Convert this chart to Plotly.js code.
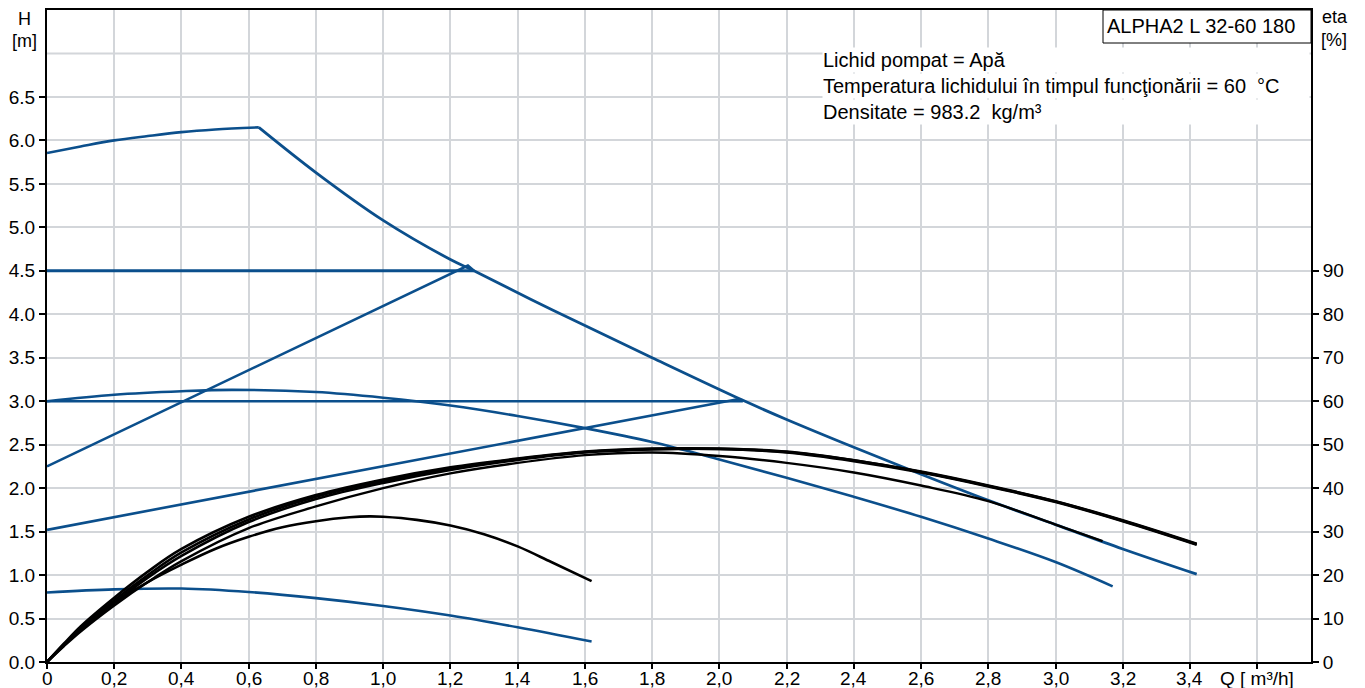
<!DOCTYPE html>
<html><head><meta charset="utf-8">
<script src="https://cdn.plot.ly/plotly-3.0.1.min.js"></script>
<style>html,body{margin:0;padding:0;background:#fff}#chart{width:1365px;height:688px}</style>
</head><body><div id="chart"></div>
<script>
// ---------- axis ticks ----------
const Q_TICKS = [0,0.2,0.4,0.6,0.8,1.0,1.2,1.4,1.6,1.8,2.0,2.2,2.4,2.6,2.8,3.0,3.2,3.4,3.6];
const Q_LABELS = ["0","0,2","0,4","0,6","0,8","1,0","1,2","1,4","1,6","1,8","2,0","2,2","2,4","2,6","2,8","3,0","3,2","3,4","Q [ m³/h]"];
const H_TICKS = [0,0.5,1.0,1.5,2.0,2.5,3.0,3.5,4.0,4.5,5.0,5.5,6.0,6.5];
const H_LABELS = ["0.0","0.5","1.0","1.5","2.0","2.5","3.0","3.5","4.0","4.5","5.0","5.5","6.0","6.5"];
const H_EXTRA_GRID = [7.0];
const ETA_TICKS = [0,10,20,30,40,50,60,70,80,90];

// ---------- pump curves (blue) ----------
const Q_max_rise = [0,0.1,0.2,0.3,0.4,0.5,0.63];
const H_max_rise = [5.855,5.93,6.0,6.05,6.095,6.125,6.15];
const Q_max_fall = [0.63,0.8,1.0,1.2,1.27,1.44,1.6,1.8,2.07,2.2,2.4,2.6,2.8,3.0,3.2,3.42];
const H_max_fall = [6.15,5.63,5.08,4.63,4.50,4.17,3.87,3.50,3.01,2.79,2.47,2.16,1.86,1.58,1.30,1.01];

const Q_pp_high = [0,1.252,1.27];
const H_pp_high = [2.25,4.56,4.50];
const Q_cp_high = [0,1.27];
const H_cp_high = [4.5,4.5];
const Q_pp_low = [0,2.05,2.07];
const H_pp_low = [1.52,3.02,3.01];
const Q_cp_low = [0,2.07];
const H_cp_low = [3.0,3.0];

const Q_auto = [0,0.2,0.4,0.55,0.8,1.0,1.2,1.4,1.6,1.8,2.0,2.2,2.4,2.6,2.8,3.0,3.17];
const H_auto = [3.0,3.075,3.115,3.13,3.105,3.04,2.95,2.83,2.69,2.53,2.33,2.12,1.90,1.67,1.42,1.15,0.87];

const Q_min = [0,0.2,0.4,0.6,0.8,1.0,1.2,1.4,1.62];
const H_min = [0.80,0.835,0.845,0.805,0.735,0.645,0.535,0.40,0.235];

// ---------- efficiency curves (black) ----------
const Q_eta = [0,0.05,0.1,0.2,0.3,0.4,0.6,0.8,1.0,1.2,1.4,1.6,1.8,2.0,2.2,2.4,2.6,2.8,3.0,3.2,3.42];
const H_eta_1 = [0,0.21,0.41,0.74,1.04,1.30,1.67,1.92,2.10,2.24,2.34,2.42,2.455,2.455,2.42,2.32,2.19,2.03,1.85,1.63,1.36];
const H_eta_2 = [0,0.20,0.39,0.71,1.00,1.26,1.64,1.90,2.08,2.225,2.335,2.415,2.45,2.45,2.415,2.32,2.185,2.025,1.845,1.625,1.355];
const H_eta_3 = [0,0.19,0.37,0.68,0.97,1.22,1.61,1.875,2.06,2.21,2.325,2.41,2.445,2.45,2.41,2.31,2.18,2.02,1.84,1.62,1.35];
const Q_eta_4 = [0,0.05,0.1,0.2,0.3,0.4,0.6,0.8,1.0,1.2,1.4,1.6,1.8,2.0,2.2,2.4,2.6,2.8,3.0,3.14];
const H_eta_4 = [0,0.18,0.35,0.65,0.92,1.16,1.54,1.79,2.00,2.17,2.29,2.38,2.41,2.37,2.29,2.18,2.03,1.85,1.58,1.39];
const Q_eta_5 = [0,0.05,0.1,0.2,0.3,0.4,0.5,0.6,0.7,0.8,0.9,0.96,1.0,1.1,1.2,1.3,1.4,1.5,1.62];
const H_eta_5 = [0,0.2,0.38,0.68,0.92,1.12,1.30,1.44,1.55,1.62,1.665,1.675,1.67,1.635,1.57,1.47,1.33,1.15,0.93];

// ---------- texts ----------
const TITLE_BOX = "ALPHA2 L 32-60 180";
const INFO_LINES = ["Lichid pompat = Apă","Temperatura lichidului în timpul funcţionării = 60  °C","Densitate = 983.2  kg/m³"];

// ---------- layout helpers ----------
const W=1365, HGT=688, PL=47, PR=1311, PT=10, PB=662;
const px = v => (v-PL)/(PR-PL);
const py = v => (PB-v)/(PB-PT);
const FONT = "Arial, 'Liberation Sans', sans-serif";
const FS = 20;
const TFS = 18;
const BLUE = "#0b4f8c";
const GRID = "#d3d6da";

function line(x,y,color,width,shape){
  return {x:x,y:y,type:'scatter',mode:'lines',line:{color:color,width:width,shape:shape||'linear',smoothing:1},hoverinfo:'skip',showlegend:false};
}
const traces = [
  line(Q_max_rise,H_max_rise,BLUE,2.6,'spline'),
  line(Q_max_fall,H_max_fall,BLUE,2.8,'spline'),
  line(Q_cp_high,H_cp_high,BLUE,3),
  line(Q_pp_high,H_pp_high,BLUE,2.6),
  line(Q_cp_low,H_cp_low,BLUE,2.6),
  line(Q_pp_low,H_pp_low,BLUE,2.6),
  line(Q_auto,H_auto,BLUE,2.6,'spline'),
  line(Q_min,H_min,BLUE,2.6,'spline'),
  line(Q_eta,H_eta_1,'#000',2.6,'spline'),
  line(Q_eta,H_eta_2,'#000',2.6,'spline'),
  line(Q_eta,H_eta_3,'#000',2.6,'spline'),
  line(Q_eta_4,H_eta_4,'#000',2.4,'spline'),
  line(Q_eta_5,H_eta_5,'#000',2.6,'spline'),
  {x:[Q_TICKS[0]],y:[ETA_TICKS[0]],yaxis:'y2',type:'scatter',mode:'markers',marker:{opacity:0},hoverinfo:'skip',showlegend:false}
];

const annotations = [
  {text:'H',x:px(24),y:py(19)},
  {text:'[m]',x:px(24),y:py(41)},
  {text:'eta',x:px(1335),y:py(17)},
  {text:'[%]',x:px(1334),y:py(40)},
  {text:TITLE_BOX,x:px(1297),y:py(26),xanchor:'right',font:{family:FONT,size:FS,color:'#000'}}
].map(a=>Object.assign({xref:'paper',yref:'paper',showarrow:false,xanchor:'center',yanchor:'middle',font:{family:FONT,size:TFS,color:'#000'}},a));

// x tick labels drawn at the tick values
Q_TICKS.forEach((q,i)=>{
  annotations.push({text:Q_LABELS[i],xref:'x',yref:'paper',x:q,y:py(678),xanchor:'center',yanchor:'middle',
    showarrow:false,font:{family:FONT,size:TFS+1,color:'#000'}});
});

const infoY=[60,86,112];
INFO_LINES.forEach((t,i)=>{
  annotations.push({text:t,xref:'paper',yref:'paper',x:px(822),y:py(infoY[i]),xanchor:'left',yanchor:'middle',
    showarrow:false,align:'left',width:486,height:24,valign:'middle',bgcolor:'#fff',borderpad:0,
    font:{family:FONT,size:FS,color:'#000'}});
});

const shapes = [
  {type:'line',xref:'paper',yref:'y',x0:0,x1:1,y0:H_EXTRA_GRID[0],y1:H_EXTRA_GRID[0],line:{color:GRID,width:2},layer:'below'},
  {type:'rect',xref:'paper',yref:'paper',x0:px(1103),x1:1,y0:py(43),y1:1,fillcolor:'#fff',line:{color:'#000',width:1},layer:'above'}
];

const layout = {
  width:W,height:HGT,autosize:false,
  margin:{l:PL,r:W-PR,t:PT,b:HGT-PB,pad:0},
  paper_bgcolor:'#fff',plot_bgcolor:'#fff',
  font:{family:FONT,size:FS,color:'#000'},
  showlegend:false,
  xaxis:{range:[0,3.76],tickmode:'array',tickvals:Q_TICKS,showticklabels:false,showgrid:true,gridcolor:GRID,gridwidth:2,
    showline:true,linecolor:'#000',linewidth:2,mirror:true,ticks:'outside',ticklen:5,tickwidth:2,tickcolor:'#000',
    zeroline:false,fixedrange:true},
  yaxis:{range:[0,7.5],tickmode:'array',tickvals:H_TICKS,ticktext:H_LABELS,showgrid:true,gridcolor:GRID,gridwidth:2,
    showline:true,linecolor:'#000',linewidth:2,mirror:true,ticks:'outside',ticklen:6,tickwidth:2,tickcolor:'#000',
    zeroline:false,tickfont:{family:FONT,size:TFS+1,color:'#000'},fixedrange:true},
  yaxis2:{range:[0,150],overlaying:'y',side:'right',anchor:'x',tickmode:'array',tickvals:ETA_TICKS,showgrid:false,
    showline:true,linecolor:'#000',linewidth:2,ticks:'outside',ticklen:6,tickwidth:2,tickcolor:'#000',zeroline:false,
    tickfont:{family:FONT,size:TFS+1,color:'#000'},fixedrange:true},
  annotations:annotations,
  shapes:shapes
};
Plotly.newPlot('chart',traces,layout,{displayModeBar:false,staticPlot:true});
</script></body></html>
